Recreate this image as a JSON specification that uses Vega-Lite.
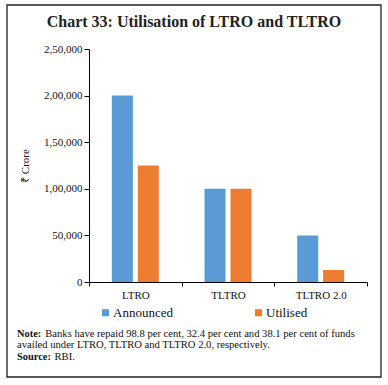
{
  "$schema": "https://vega.github.io/schema/vega-lite/v6.json",
  "autosize": {"type": "none"},
  "padding": {"left": 89, "top": 49, "right": 21, "bottom": 103},
  "width": 278,
  "height": 233,
  "background": "white",
  "title": {
    "text": "Chart 33: Utilisation of LTRO and TLTRO",
    "font": "Liberation Serif",
    "fontSize": 16,
    "fontWeight": "bold",
    "color": "#222222",
    "anchor": "middle",
    "frame": "group",
    "dx": -34,
    "offset": -26
  },
  "config": {
    "view": {"stroke": null},
    "font": "Liberation Serif"
  },
  "layer": [
    {
      "data": {"values": [{}]},
      "mark": {"type": "rect", "x": -82, "x2": 292, "y": -44, "y2": 328, "fill": null, "fillOpacity": 0, "stroke": "#222222", "strokeWidth": 1.3},
      "encoding": {}
    },
    {
      "data": {
        "values": [
          {"scheme": "LTRO", "series": "Announced", "amount": 200000},
          {"scheme": "LTRO", "series": "Utilised", "amount": 125016},
          {"scheme": "TLTRO", "series": "Announced", "amount": 100000},
          {"scheme": "TLTRO", "series": "Utilised", "amount": 100000},
          {"scheme": "TLTRO 2.0", "series": "Announced", "amount": 50000},
          {"scheme": "TLTRO 2.0", "series": "Utilised", "amount": 12850}
        ]
      },
      "mark": {"type": "bar"},
      "encoding": {
        "x": {
          "field": "scheme",
          "type": "nominal",
          "sort": ["LTRO", "TLTRO", "TLTRO 2.0"],
          "scale": {"paddingInner": 0, "paddingOuter": 0},
          "axis": {
            "title": null,
            "labelAngle": 0,
            "tickBand": "extent",
            "tickSize": 4,
            "tickColor": "#000000",
            "domainColor": "#000000",
            "labelColor": "#111111",
            "labelFont": "Liberation Serif",
            "labelFontSize": 11,
            "labelPadding": 3
          }
        },
        "xOffset": {
          "field": "series",
          "type": "nominal",
          "sort": ["Announced", "Utilised"],
          "scale": {"paddingInner": 0.19, "paddingOuter": 0.88}
        },
        "y": {
          "field": "amount",
          "type": "quantitative",
          "scale": {"domain": [0, 250000], "nice": false},
          "axis": {
            "title": "₹ Crore",
            "titleFont": "Liberation Serif",
            "titleFontSize": 11,
            "titleFontWeight": "normal",
            "titleColor": "#111111",
            "titleX": -64,
            "titleY": 116.5,
            "titleBaseline": "middle",
            "titleAngle": -90,
            "values": [0, 50000, 100000, 150000, 200000, 250000],
            "labelExpr": "datum.value >= 100000 ? floor(datum.value/100000) + ',' + format((datum.value % 100000)/1000, '02d') + ',000' : format(datum.value, ',')",
            "grid": false,
            "tickSize": 5,
            "tickColor": "#000000",
            "domainColor": "#000000",
            "labelColor": "#111111",
            "labelFont": "Liberation Serif",
            "labelFontSize": 11,
            "labelPadding": 2
          }
        },
        "color": {
          "field": "series",
          "type": "nominal",
          "sort": ["Announced", "Utilised"],
          "scale": {"domain": ["Announced", "Utilised"], "range": ["#5B9BD5", "#ED7D31"]},
          "legend": {
            "title": null,
            "orient": "none",
            "direction": "horizontal",
            "legendX": 10,
            "legendY": 257,
            "symbolType": "square",
            "symbolSize": 50,
            "symbolStrokeWidth": 0,
            "symbolOpacity": 1,
            "labelFont": "Liberation Serif",
            "labelFontSize": 13,
            "labelColor": "#111111",
            "labelOffset": 1,
            "columnPadding": 79
          }
        }
      }
    },
    {
      "data": {"values": [{}]},
      "mark": {"type": "text", "text": "Note:", "x": -72, "y": 287.5, "align": "left", "baseline": "alphabetic", "font": "Liberation Serif", "fontSize": 10.4, "fontWeight": "bold", "color": "#111111"},
      "encoding": {}
    },
    {
      "data": {"values": [{}]},
      "mark": {"type": "text", "text": "Banks have repaid 98.8 per cent, 32.4 per cent and 38.1 per cent of funds", "x": -43.7, "y": 287.5, "align": "left", "baseline": "alphabetic", "font": "Liberation Serif", "fontSize": 10.6, "color": "#111111"},
      "encoding": {}
    },
    {
      "data": {"values": [{}]},
      "mark": {"type": "text", "text": "availed under LTRO, TLTRO and TLTRO 2.0, respectively.", "x": -72, "y": 299, "align": "left", "baseline": "alphabetic", "font": "Liberation Serif", "fontSize": 10.6, "color": "#111111"},
      "encoding": {}
    },
    {
      "data": {"values": [{}]},
      "mark": {"type": "text", "text": "Source:", "x": -72, "y": 310.5, "align": "left", "baseline": "alphabetic", "font": "Liberation Serif", "fontSize": 10.4, "fontWeight": "bold", "color": "#111111"},
      "encoding": {}
    },
    {
      "data": {"values": [{}]},
      "mark": {"type": "text", "text": "RBI.", "x": -34.5, "y": 310.5, "align": "left", "baseline": "alphabetic", "font": "Liberation Serif", "fontSize": 10.6, "color": "#111111"},
      "encoding": {}
    }
  ]
}
